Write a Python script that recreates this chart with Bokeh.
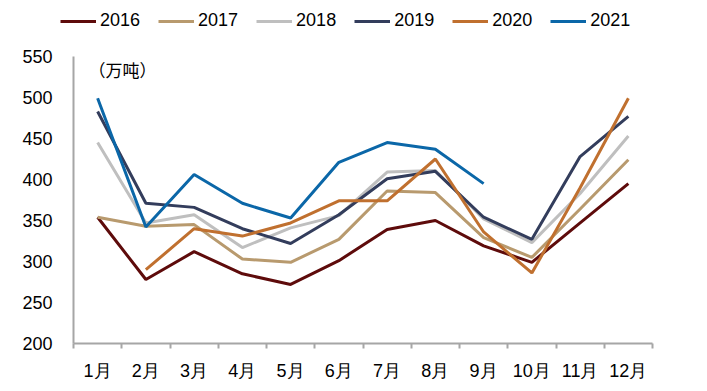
from bokeh.plotting import figure
from bokeh.models import Legend, LegendItem, Label, FixedTicker, Range1d
from bokeh.embed import file_html
from bokeh.resources import INLINE

months = ["1月", "2月", "3月", "4月", "5月", "6月", "7月", "8月", "9月", "10月", "11月", "12月"]
y2016 = [354, 278, 312, 285, 272, 301, 339, 350, 319, 299, 347, 395]
y2017 = [354, 343, 345, 303, 299, 327, 386, 384, 329, 305, 364, 424]
y2018 = [445, 347, 357, 317, 341, 356, 409, 411, 352, 323, 383, 453]
y2019 = [483, 371, 366, 340, 322, 357, 401, 410, 354, 327, 428, 477]
y2020 = [float("nan"), 290, 340, 331, 347, 374, 374, 425, 336, 286, 390, 499]
y2021 = [499, 342, 406, 371, 353, 421, 445, 437, 395]
series_names = ["2016", "2017", "2018", "2019", "2020", "2021"]
series_values = [y2016, y2017, y2018, y2019, y2020, y2021]
colors = ["#5E0B0B", "#B89A6E", "#BFBFBF", "#333D5C", "#C0702F", "#0B67A8"]
y_ticks = [200, 250, 300, 350, 400, 450, 500, 550]
unit_label = "（万吨）"

FONT = "Liberation Sans"

# legend strip (separate root so its frame spans the full width)
lg = figure(width=699, height=40, output_backend="svg", toolbar_location=None,
            x_range=Range1d(0, 1), y_range=Range1d(0, 1),
            x_axis_type=None, y_axis_type=None,
            min_border_left=0, min_border_right=0, min_border_top=0, min_border_bottom=0)
lg.outline_line_color = None
lg.xgrid.visible = False
lg.ygrid.visible = False
items = []
for name, c in zip(series_names, colors):
    r = lg.line([float("nan")], [float("nan")], line_color=c, line_width=3)
    items.append(LegendItem(label=name, renderers=[r]))
legend = Legend(items=items, orientation="horizontal", location=(60, 9),
                glyph_width=36, glyph_height=20, label_height=20, label_standoff=4,
                spacing=18, padding=0, margin=0, border_line_color=None,
                background_fill_alpha=0, label_text_font=FONT,
                label_text_font_size="18px", label_text_color="black")
lg.add_layout(legend, "center")

# main chart
p = figure(width=699, height=343, output_backend="svg", toolbar_location=None,
           x_range=Range1d(0.5, 12.5), y_range=Range1d(200, 550),
           min_border_left=73, min_border_right=47, min_border_top=16, min_border_bottom=37)
p.outline_line_color = None
p.xgrid.visible = False
p.ygrid.visible = False

for name, vals, c in zip(series_names, series_values, colors):
    xs = list(range(1, len(vals) + 1))
    p.line(xs, vals, line_color=c, line_width=3)

# x axis
p.xaxis.ticker = FixedTicker(ticks=list(range(1, 13)),
                             minor_ticks=[i + 0.5 for i in range(0, 13)])
p.xaxis.major_label_overrides = {i + 1: m for i, m in enumerate(months)}
p.xaxis.major_tick_line_color = None
p.xaxis.major_tick_out = 0
p.xaxis.major_tick_in = 0
p.xaxis.minor_tick_line_color = "#A6A6A6"
p.xaxis.minor_tick_line_width = 2
p.xaxis.minor_tick_out = 5
p.xaxis.minor_tick_in = 0
p.xaxis.axis_line_color = "#A6A6A6"
p.xaxis.axis_line_width = 2
p.xaxis.major_label_text_font = FONT
p.xaxis.major_label_text_font_size = "18px"
p.xaxis.major_label_text_color = "black"
p.xaxis.major_label_standoff = 12

# y axis
p.yaxis.ticker = FixedTicker(ticks=y_ticks)
p.yaxis.major_tick_line_color = None
p.yaxis.major_tick_out = 0
p.yaxis.major_tick_in = 0
p.yaxis.minor_tick_line_color = None
p.yaxis.axis_line_color = "#A6A6A6"
p.yaxis.axis_line_width = 2
p.yaxis.major_label_text_font = FONT
p.yaxis.major_label_text_font_size = "18px"
p.yaxis.major_label_text_color = "black"
p.yaxis.major_label_standoff = 21

p.add_layout(Label(x=15, y=274, x_units="screen", y_units="screen", text=unit_label,
                   text_font="Noto Sans CJK SC", text_font_size="17px", text_color="black",
                   text_baseline="middle"))

open("out.html", "w").write(file_html([lg, p], INLINE))
